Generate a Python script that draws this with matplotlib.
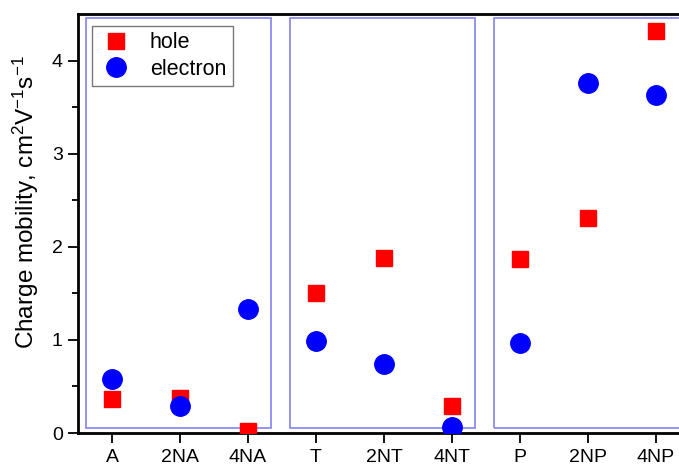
import matplotlib.pyplot as plt
from matplotlib.patches import Rectangle

plt.rcParams['font.family'] = ['Liberation Sans', 'DejaVu Sans']
plt.rcParams['mathtext.fontset'] = 'custom'
plt.rcParams['mathtext.rm'] = 'Liberation Sans'
plt.rcParams['mathtext.default'] = 'regular'

samples = ["A", "2NA", "4NA", "T", "2NT", "4NT", "P", "2NP", "4NP"]
hole = [0.37, 0.38, 0.02, 1.50, 1.88, 0.29, 1.87, 2.31, 4.32]
electron = [0.58, 0.29, 1.33, 0.99, 0.74, 0.06, 0.97, 3.76, 3.63]
groups = [(1, 3), (4, 6), (7, 9)]


def plotMobility():
    fig = plt.figure(figsize=(6.79, 4.66), dpi=100)
    ax = fig.add_axes([0.1149, 0.0708, 0.8851, 0.8992])
    x = list(range(1, len(samples) + 1))

    # group frames
    for g0, g1 in groups:
        right = g1 + 0.34 if g1 < len(samples) else g1 + 2
        ax.add_patch(Rectangle((g0 - 0.38, 0.05), right - (g0 - 0.38), 4.41,
                               fill=False, edgecolor='#8c8cf2', linewidth=1.3,
                               zorder=1, clip_on=True))

    ax.plot(x, hole, 's', color='#ff0000', markersize=12, label="hole", zorder=3, clip_on=True)
    ax.plot(x, electron, 'o', color='#0000ff', markersize=14, label="electron", zorder=3, clip_on=True)

    ax.set_xlim(0.5, 9.34)
    ax.set_ylim(0, 4.5)
    ax.set_xticks(x)
    ax.set_xticklabels(samples)
    ax.set_yticks([0, 1, 2, 3, 4])
    ax.set_yticks([0.5, 1.5, 2.5, 3.5], minor=True)
    ax.tick_params(axis='both', which='major', direction='out', length=7, width=1.3,
                   labelsize=14, colors='black')
    ax.tick_params(axis='x', which='major', pad=4.5)
    ax.tick_params(axis='y', which='major', pad=4)
    ax.tick_params(axis='y', which='minor', direction='out', length=4, width=1.3)
    ax.spines['right'].set_visible(False)
    for s in ['left', 'bottom', 'top']:
        ax.spines[s].set_linewidth(2)
    ax.set_ylabel("Charge mobility, cm$^2$V$^{-1}$s$^{-1}$", fontsize=17.5)
    ax.yaxis.set_label_coords(-0.062, 0.55)

    leg = ax.legend(loc='upper left', bbox_to_anchor=(0.023, 0.972), fontsize=15.5,
                    frameon=True, fancybox=False, borderaxespad=0, handletextpad=0.8,
                    borderpad=0.3, labelspacing=0.25, handlelength=1.6)
    leg.get_frame().set_edgecolor('#555555')
    leg.get_frame().set_linewidth(1.0)

    plt.savefig("out.png", dpi=100)
    plt.close()


if __name__ == '__main__':
    plotMobility()
